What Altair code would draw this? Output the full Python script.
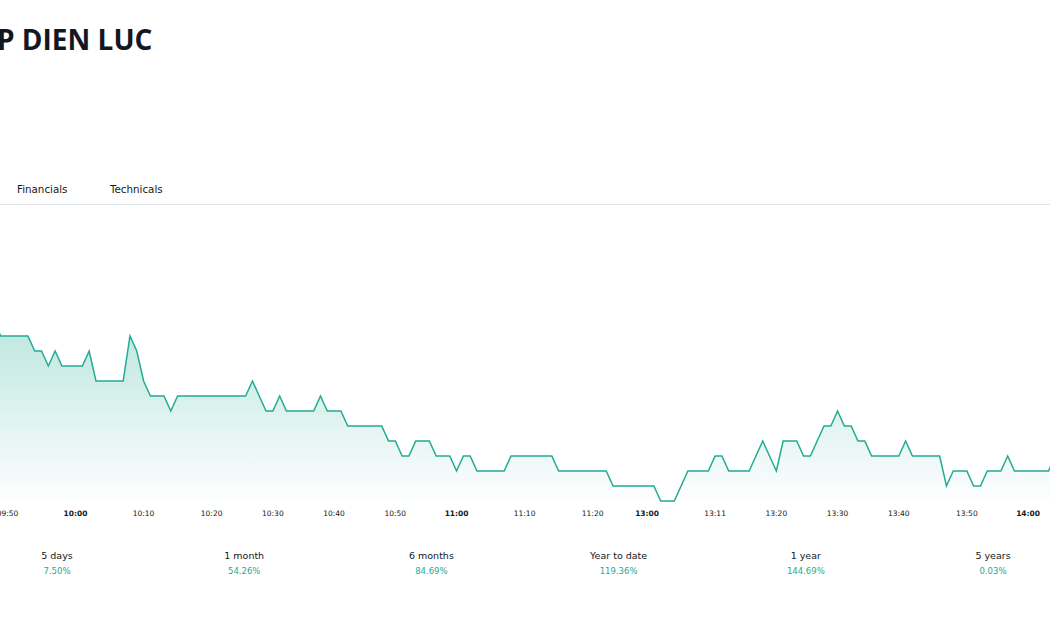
import altair as alt
import pandas as pd

# ---- data ----
point_index = list(range(-1, 156))
prices = [
    22.2,
    22.1, 22.1, 22.1, 22.1, 22.1,
    22.0, 22.0, 21.9, 22.0, 21.9, 21.9, 21.9, 21.9, 22.0,
    21.8, 21.8, 21.8, 21.8, 21.8,
    22.1, 22.0, 21.8, 21.7, 21.7, 21.7, 21.6,
    21.7, 21.7, 21.7, 21.7, 21.7, 21.7, 21.7, 21.7, 21.7, 21.7, 21.7,
    21.8, 21.7, 21.6, 21.6, 21.7,
    21.6, 21.6, 21.6, 21.6, 21.6, 21.7, 21.6, 21.6, 21.6,
    21.5, 21.5, 21.5, 21.5, 21.5, 21.5,
    21.4, 21.4, 21.3, 21.3, 21.4, 21.4, 21.4,
    21.3, 21.3, 21.3, 21.2, 21.3, 21.3,
    21.2, 21.2, 21.2, 21.2, 21.2,
    21.3, 21.3, 21.3, 21.3, 21.3, 21.3, 21.3,
    21.2, 21.2, 21.2, 21.2, 21.2, 21.2, 21.2, 21.2,
    21.1, 21.1, 21.1, 21.1, 21.1, 21.1, 21.1,
    21.0, 21.0, 21.0, 21.1,
    21.2, 21.2, 21.2, 21.2, 21.3, 21.3,
    21.2, 21.2, 21.2, 21.2, 21.3, 21.4, 21.3, 21.2,
    21.4, 21.4, 21.4, 21.3, 21.3, 21.4, 21.5, 21.5, 21.6, 21.5, 21.5, 21.4, 21.4,
    21.3, 21.3, 21.3, 21.3, 21.3, 21.4,
    21.3, 21.3, 21.3, 21.3, 21.3,
    21.1, 21.2, 21.2, 21.2, 21.1, 21.1, 21.2, 21.2, 21.2, 21.3,
    21.2, 21.2, 21.2, 21.2, 21.2, 21.2, 21.3,
]

tick_index = [1, 11, 21, 31, 40, 49, 58, 67, 77, 87, 95, 105, 114, 123, 132, 142, 151]
tick_labels = ["09:50", "10:00", "10:10", "10:20", "10:30", "10:40", "10:50", "11:00",
               "11:10", "11:20", "13:00", "13:11", "13:20", "13:30", "13:40", "13:50", "14:00"]
tick_bold = [False, True, False, False, False, False, False, True,
             False, False, True, False, False, False, False, False, True]

periods = ["5 days", "1 month", "6 months", "Year to date", "1 year", "5 years"]
changes = ["7.50%", "54.26%", "84.69%", "119.36%", "144.69%", "0.03%"]

title_text = "P DIEN LUC"
tabs = ["Financials", "Technicals"]

# ---- chart ----
GREEN = "#22ab94"
INK = "#131722"
FONT = "DejaVu Sans"

df = pd.DataFrame({"i": point_index, "price": prices})
ticks = pd.DataFrame({"i": tick_index, "label": tick_labels, "bold": tick_bold})
stats = pd.DataFrame({"period": periods, "change": changes})

xs = alt.Scale(domain=[-0.103, 154.22], nice=False, zero=False)
ys = alt.Scale(domain=[20.14, 24.34], nice=False, zero=False)

area = alt.Chart(df).mark_area(
    clip=True,
    color=alt.Gradient(
        gradient="linear",
        stops=[alt.GradientStop(color="rgba(34,171,148,0.30)", offset=0),
               alt.GradientStop(color="rgba(34,171,148,0.0)", offset=1)],
        x1=1, x2=1, y1=0, y2=1),
).encode(
    x=alt.X("i:Q", scale=xs, axis=None),
    y=alt.Y("price:Q", scale=ys, axis=None),
    y2=alt.datum(20.97),
)

line = alt.Chart(df).mark_line(clip=True, color=GREEN, strokeWidth=1.5).encode(
    x=alt.X("i:Q", scale=xs, axis=None),
    y=alt.Y("price:Q", scale=ys, axis=None),
)

tick_reg = alt.Chart(ticks).transform_filter("!datum.bold").mark_text(
    font=FONT, fontSize=7.5, color=INK, baseline="middle", align="center"
).encode(x=alt.X("i:Q", scale=xs, axis=None), y=alt.value(514), text="label:N")

tick_b = alt.Chart(ticks).transform_filter("datum.bold").mark_text(
    font=FONT, fontSize=7.5, fontWeight="bold", color=INK, baseline="middle", align="center"
).encode(x=alt.X("i:Q", scale=xs, axis=None), y=alt.value(514), text="label:N")

ps = alt.Scale(type="point", domain=periods, range=[57, 993], padding=0)
stat_lab = alt.Chart(stats).mark_text(
    font=FONT, fontSize=9.5, color=INK, baseline="middle", align="center"
).encode(x=alt.X("period:N", scale=ps, axis=None), y=alt.value(556), text="period:N")
stat_val = alt.Chart(stats).mark_text(
    font=FONT, fontSize=8.5, color=GREEN, baseline="middle", align="center"
).encode(x=alt.X("period:N", scale=ps, axis=None), y=alt.value(571), text="change:N")

title = alt.Chart(pd.DataFrame({"t": [title_text]})).mark_text(
    font="Open Sans", fontSize=28, fontWeight="bold", color=INK, align="left", baseline="alphabetic"
).encode(x=alt.value(-3), y=alt.value(50), text="t:N")

tab1 = alt.Chart(pd.DataFrame({"t": [tabs[0]]})).mark_text(
    font=FONT, fontSize=10.3, color=INK, align="left", baseline="middle"
).encode(x=alt.value(17), y=alt.value(190), text="t:N")
tab2 = alt.Chart(pd.DataFrame({"t": [tabs[1]]})).mark_text(
    font=FONT, fontSize=10.3, color=INK, align="left", baseline="middle"
).encode(x=alt.value(110), y=alt.value(190), text="t:N")

divider = alt.Chart(pd.DataFrame({"a": [0]})).mark_rule(color="#e0e3eb", strokeWidth=1).encode(
    x=alt.value(0), x2=alt.value(1050), y=alt.value(204.5))

chart = alt.layer(
    divider, area, line, tick_reg, tick_b, stat_lab, stat_val, title, tab1, tab2
).resolve_scale(x="independent").properties(
    width=1050, height=630, padding=0, autosize=alt.AutoSizeParams(type="none"),
    background="white",
).configure_view(stroke=None)

chart.save("out.html", embed_options={"renderer": "svg", "actions": False})
